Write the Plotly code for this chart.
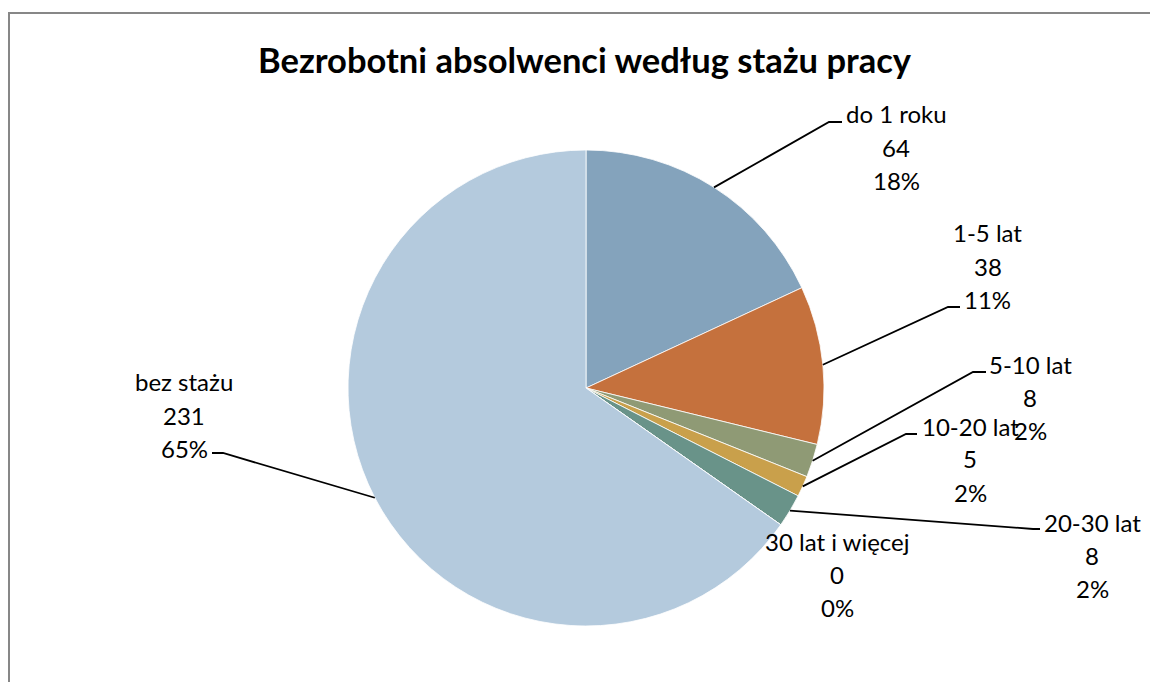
import math
import plotly.graph_objects as go

# ---- data ----
categories = ["do 1 roku", "1-5 lat", "5-10 lat", "10-20 lat", "20-30 lat",
              "30 lat i więcej", "bez stażu"]
values = [64, 38, 8, 5, 8, 0, 231]
percent_labels = ["18%", "11%", "2%", "2%", "2%", "0%", "65%"]
colors = ["#84A3BC", "#C5713D", "#8F9A75", "#C9A04B", "#699389", "#9BBB59", "#B4CADD"]
title_text = "Bezrobotni absolwenci według stażu pracy"

# ---- layout geometry (pixels) ----
W, H = 1150, 682
CX, CY, R = 586, 388, 238

# label block centers (x, y of first line) and leader elbows (elbow point, end point)
label_pos = {
    "do 1 roku": (896, 114),
    "1-5 lat": (988, 233),
    "5-10 lat": (1030, 364),
    "10-20 lat": (970, 426),
    "20-30 lat": (1092, 522),
    "30 lat i więcej": (837, 541),
    "bez stażu": (184, 382),
}
leader = {
    "do 1 roku": ((829, 122), (842, 122)),
    "1-5 lat": ((948, 307), (960, 307)),
    "5-10 lat": ((973, 372), (986, 372)),
    "10-20 lat": ((906, 434), (917, 434)),
    "20-30 lat": ((1033, 529), (1040, 529)),
    "bez stażu": ((223, 453), (212, 453)),
}
LINE_SP = 33

def px(x):
    return x / W

def py(y):
    return 1 - y / H

fig = go.Figure()
fig.add_trace(go.Pie(
    labels=categories,
    values=values,
    sort=False,
    direction="clockwise",
    rotation=0,
    marker=dict(colors=colors, line=dict(color="white", width=0.8)),
    textinfo="none",
    hoverinfo="skip",
    showlegend=False,
    domain=dict(x=[px(CX - R), px(CX + R)], y=[py(CY + R), py(CY - R)]),
))

annotations = []
shapes = []
font_lbl = dict(family="Lato, 'Open Sans', sans-serif", size=24, color="black")

total = sum(values)
cum = 0
for cat, v, pct in zip(categories, values, percent_labels):
    mid = (cum + v / 2) / total * 2 * math.pi
    cum += v
    lx, ly = label_pos[cat]
    for i, t in enumerate([cat, str(v), pct]):
        annotations.append(dict(
            x=px(lx), y=py(ly + i * LINE_SP), xref="paper", yref="paper",
            text=t, showarrow=False, xanchor="center", yanchor="middle",
            font=font_lbl,
        ))
    if cat in leader:
        sx = CX + R * math.sin(mid)
        sy = CY - R * math.cos(mid)
        (ex, ey), (fx, fy) = leader[cat]
        path = f"M {px(sx)},{py(sy)} L {px(ex)},{py(ey)} L {px(fx)},{py(fy)}"
        shapes.append(dict(type="path", xref="paper", yref="paper", path=path,
                           line=dict(color="black", width=1.8)))

annotations.append(dict(
    x=px(585), y=py(59), xref="paper", yref="paper", text="<b>" + title_text + "</b>",
    showarrow=False, xanchor="center", yanchor="middle",
    font=dict(family="Lato, 'Open Sans', sans-serif", size=34.5, color="black"),
))

# outer chart-area frame
shapes.append(dict(type="rect", xref="paper", yref="paper",
                   x0=px(9), y0=-0.05, x1=1.05, y1=py(13),
                   line=dict(color="#878787", width=2), fillcolor="rgba(0,0,0,0)"))

fig.update_layout(
    width=W, height=H,
    margin=dict(l=0, r=0, t=0, b=0),
    paper_bgcolor="white", plot_bgcolor="white",
    annotations=annotations, shapes=shapes,
)

fig.write_html("out.html",
               config={"displayModeBar": False},
               post_script="document.body.style.margin='0';document.body.style.overflow='hidden';")
